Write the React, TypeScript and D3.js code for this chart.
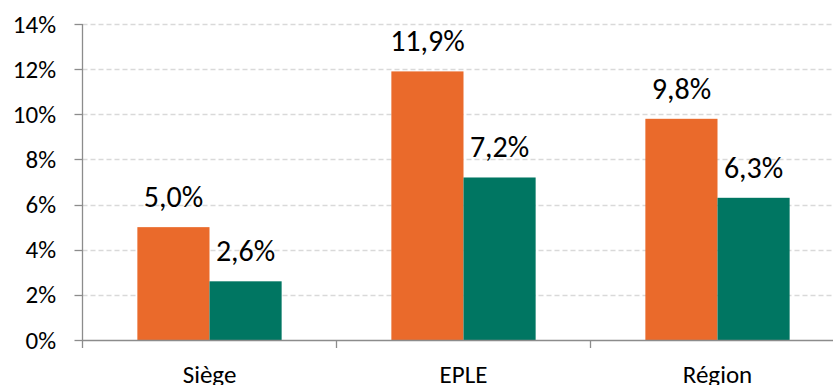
import React from "react";
import * as d3 from "d3";

const categories = ["Siège", "EPLE", "Région"];
const series1 = [5.0, 11.9, 9.8];
const series2 = [2.6, 7.2, 6.3];
const yTicks = [0, 2, 4, 6, 8, 10, 12, 14];

const W = 833;
const H = 385;
const left = 82.5;
const right = 844.5;
const top = 24;
const bottom = 340;
const FONT = "Carlito, Calibri, Lato, sans-serif";

export default function App() {
  const x = d3.scaleBand<string>().domain(categories).range([left, right]).paddingInner(0).paddingOuter(0);
  const y = d3.scaleLinear().domain([0, 14]).range([bottom, top]);
  const bw = x.bandwidth();
  const barW = bw * 0.284;
  const fmt = (v: number) => v.toFixed(1).replace(".", ",") + "%";
  const cols = ["#EA6A2B", "#007662"];
  const sers = [series1, series2];

  return (
    <svg width={W} height={H} style={{ position: "absolute", left: 0, top: 0 }}>
      <rect x={0} y={0} width={W} height={H} fill="#fff" />
      {yTicks.filter((t) => t > 0).map((t) => (
        <line key={"g" + t} x1={left} x2={W} y1={Math.round(y(t)) + 0.5} y2={Math.round(y(t)) + 0.5}
          stroke="#D9D9D9" strokeWidth={1.3} strokeDasharray="5,3" />
      ))}
      {categories.map((c, i) =>
        sers.map((s, k) => {
          const cx = (x(c) as number) + bw / 2;
          const bx = k === 0 ? cx - barW : cx;
          return (
            <g key={c + k}>
              <rect x={bx} y={y(s[i])} width={barW} height={bottom - y(s[i])} fill={cols[k]} />
              <text x={bx + barW / 2} y={y(s[i]) - 20} textAnchor="middle" fontFamily={FONT}
                fontSize={30} fill="#000">{fmt(s[i])}</text>
            </g>
          );
        })
      )}
      <line x1={left} x2={left} y1={top} y2={bottom + 8} stroke="#8C8C8C" strokeWidth={1.3} />
      <line x1={left} x2={W} y1={bottom + 0.5} y2={bottom + 0.5} stroke="#8C8C8C" strokeWidth={1.3} />
      {yTicks.map((t) => (
        <g key={"t" + t}>
          <line x1={left - 8} x2={left} y1={Math.round(y(t)) + 0.5} y2={Math.round(y(t)) + 0.5} stroke="#8C8C8C" strokeWidth={1.3} />
          <text x={56} y={y(t) + 8.5} textAnchor="end" fontFamily={FONT} fontSize={25} fill="#000">{t}%</text>
        </g>
      ))}
      {categories.map((c, i) => (
        <g key={"c" + c}>
          {i > 0 && (
            <line x1={x(c) as number} x2={x(c) as number} y1={bottom} y2={bottom + 8} stroke="#8C8C8C" strokeWidth={1.3} />
          )}
          <text x={(x(c) as number) + bw / 2} y={383} textAnchor="middle" fontFamily={FONT} fontSize={25} fill="#000">{c}</text>
        </g>
      ))}
    </svg>
  );
}
